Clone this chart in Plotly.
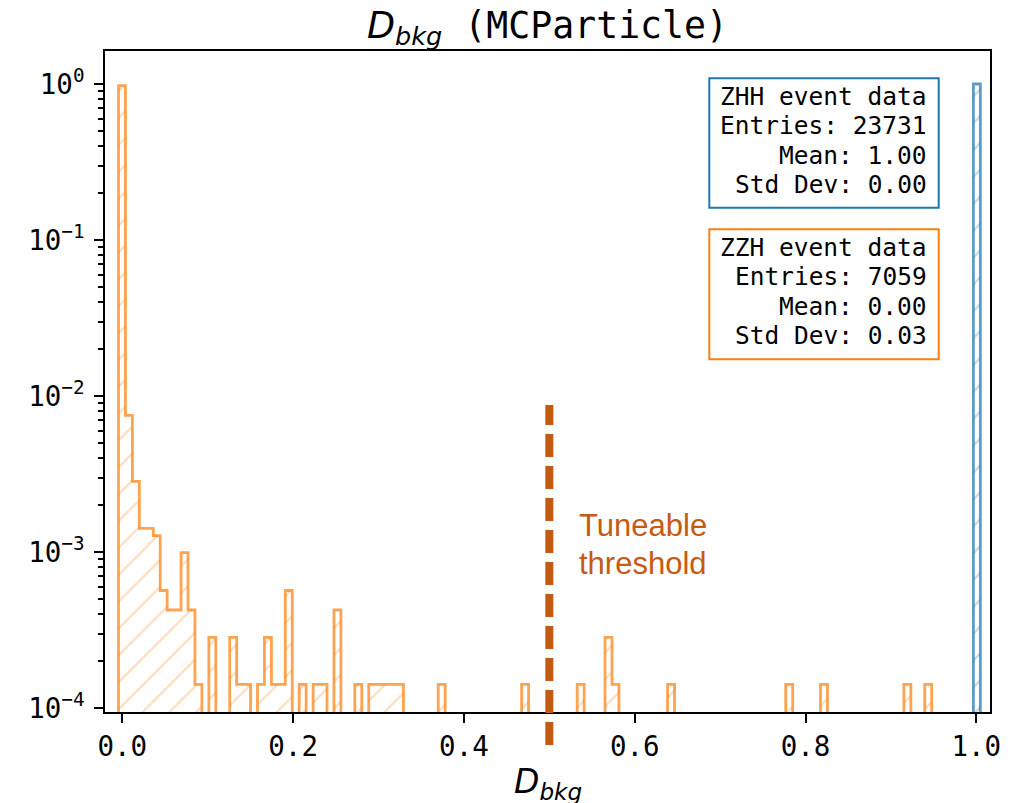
import numpy as np
import plotly.graph_objects as go

# ---------------- data ----------------
N_BINS = 124
BIN_LO = -0.0045
BIN_HI = 1.0047

# ZZH histogram: counts per bin (124 bins)
zzh_counts = [
    6898, 53, 20, 10, 10, 9, 4, 3, 3, 7,      # 0-9
    3, 1, 0, 2, 0, 0, 2, 1, 1, 0,             # 10-19
    1, 2, 1, 1, 4, 0, 1, 0, 1, 1,             # 20-29
    0, 3, 0, 0, 1, 0, 1, 1, 1, 1,             # 30-39
    1, 0, 0, 0, 0, 0, 1, 0, 0, 0,             # 40-49
    0, 0, 0, 0, 0, 0, 0, 0, 1, 0,             # 50-59
    0, 0, 0, 0, 0, 0, 1, 0, 0, 0,             # 60-69
    2, 1, 0, 0, 0, 0, 0, 0, 0, 1,             # 70-79
    0, 0, 0, 0, 0, 0, 0, 0, 0, 0,             # 80-89
    0, 0, 0, 0, 0, 0, 1, 0, 0, 0,             # 90-99
    0, 1, 0, 0, 0, 0, 0, 0, 0, 0,             # 100-109
    0, 0, 0, 1, 0, 0, 1, 0, 0, 0,             # 110-119
    0, 0, 0, 0,                               # 120-123
]
# ZHH histogram: every entry falls in the last bin
zhh_counts = [0] * 123 + [23731]

zhh_box_lines = ["ZHH event data", "Entries: 23731", "Mean: 1.00", "Std Dev: 0.00"]
zzh_box_lines = ["ZZH event data", "Entries: 7059", "Mean: 0.00", "Std Dev: 0.03"]

x_tick_vals = [0.0, 0.2, 0.4, 0.6, 0.8, 1.0]
y_tick_exps = [-4, -3, -2, -1, 0]
threshold = 0.5
threshold_text = ["Tuneable", "threshold"]
title_main = "(MCParticle)"

# ---------------- helpers ----------------
edges = np.linspace(BIN_LO, BIN_HI, N_BINS + 1)
FLOOR = 1e-8


def step_path(counts):
    c = np.asarray(counts, dtype=float)
    v = c / c.sum()
    xs = [edges[0]]
    ys = [FLOOR]
    for i, val in enumerate(v):
        h = val if val > 0 else FLOOR
        xs += [edges[i], edges[i + 1]]
        ys += [h, h]
    xs.append(edges[-1])
    ys.append(FLOOR)
    return xs, ys


ORANGE = "255,127,14"
BLUE = "31,119,180"

fig = go.Figure()
for counts, rgb in [(zzh_counts, ORANGE), (zhh_counts, BLUE)]:
    xs, ys = step_path(counts)
    fig.add_trace(go.Scatter(
        x=xs, y=ys, mode="lines",
        line=dict(color=f"rgba({rgb},0.72)", width=2.8),
        fill="toself", fillcolor="rgba(0,0,0,0)",
        fillpattern=dict(shape="/", fgcolor=f"rgba({rgb},0.55)",
                         bgcolor="rgba(0,0,0,0)", size=19, solidity=0.12),
        hoverinfo="skip", showlegend=False,
    ))

# plot-area geometry (pixels) used for layout placement
W, H = 1023, 803
ML, MR, MT, MB = 105, 33, 51, 91
PW, PH = W - ML - MR, H - MT - MB


def px_x(px):
    return (px - ML) / PW


def px_y(py):
    return (H - MB - py) / PH


MONO = "DejaVu Sans Mono"
TICKFONT = dict(family=MONO, size=27.5, color="black")

fig.update_layout(
    width=W, height=H,
    margin=dict(l=ML, r=MR, t=MT, b=MB, pad=0),
    paper_bgcolor="white", plot_bgcolor="white",
    showlegend=False,
    title=dict(
        text=("<span style=\"font-family:'DejaVu Sans'\"><i>D</i><sub><i>bkg</i></sub></span>"
              " " + title_main),
        font=dict(family=MONO, size=36.5, color="black"),
        x=0.5, xref="paper", xanchor="center",
        y=1 - 37.5 / H, yref="container", yanchor="bottom",
    ),
)

fig.update_xaxes(
    range=[-0.0203, 1.016],
    tickvals=x_tick_vals, ticktext=[f"{v:.1f}" for v in x_tick_vals],
    ticks="outside", ticklen=9, tickwidth=2, tickcolor="black",
    showline=True, linecolor="black", linewidth=2, mirror=True,
    showgrid=False, zeroline=False, tickfont=TICKFONT,
)

minor_vals = [k * 10.0 ** e for e in range(-5, 1) for k in range(2, 10)]
fig.update_yaxes(
    type="log", range=[-4.0256, 0.2115],
    tickvals=[10.0 ** e for e in y_tick_exps],
    ticktext=[f"10<sup>{str(e).replace('-', '−')}</sup>" for e in y_tick_exps],
    ticks="outside", ticklen=9, tickwidth=2, tickcolor="black",
    ticklabelstandoff=4,
    minor=dict(tickvals=minor_vals, ticks="outside", ticklen=5, tickwidth=1.5,
               tickcolor="black", showgrid=False),
    showline=True, linecolor="black", linewidth=2, mirror=True,
    showgrid=False, zeroline=False, tickfont=TICKFONT,
)

# x-axis label
fig.add_annotation(
    text="<i>D</i><sub><i>bkg</i></sub>", showarrow=False,
    xref="paper", yref="paper", x=0.5, y=px_y(760), xanchor="center", yanchor="top",
    font=dict(family="DejaVu Sans", size=33, color="black"),
)

# stat boxes
boxes = [
    (zhh_box_lines, f"rgb({BLUE})", 78.3, 207.7, 105.0),
    (zzh_box_lines, f"rgb({ORANGE})", 229.3, 359.3, 256.0),
]
BOX_L, BOX_R, TEXT_R = 709.3, 938.7, 927.7
BOX_FS = 24.5
for lines, col, top, bot, base0 in boxes:
    fig.add_shape(type="rect", xref="paper", yref="paper",
                  x0=px_x(BOX_L), x1=px_x(BOX_R), y0=px_y(bot), y1=px_y(top),
                  line=dict(color=col, width=2), fillcolor="white", layer="above")
    for i, t in enumerate(lines):
        base = base0 + i * 29.4
        fig.add_annotation(
            text=t, showarrow=False, xref="paper", yref="paper",
            x=px_x(TEXT_R), y=px_y(base - 0.346 * BOX_FS),
            xanchor="right", yanchor="middle", borderpad=0,
            font=dict(family=MONO, size=BOX_FS, color="black"),
        )

# tuneable threshold marker
TH_COL = "#C55A11"
fig.add_shape(type="line", xref="x", yref="paper",
              x0=threshold, x1=threshold, y0=px_y(745), y1=px_y(405),
              line=dict(color=TH_COL, width=8, dash="23px,9px"), layer="above")
for i, t in enumerate(threshold_text):
    base = 536.7 + i * 37.6
    fig.add_annotation(
        text=t, showarrow=False, xref="paper", yref="paper",
        x=px_x(578.3), y=px_y(base - 0.3465 * 31), xanchor="left", yanchor="middle",
        borderpad=0, font=dict(family="Liberation Sans", size=31, color=TH_COL),
    )

fig.write_html("out.html")
